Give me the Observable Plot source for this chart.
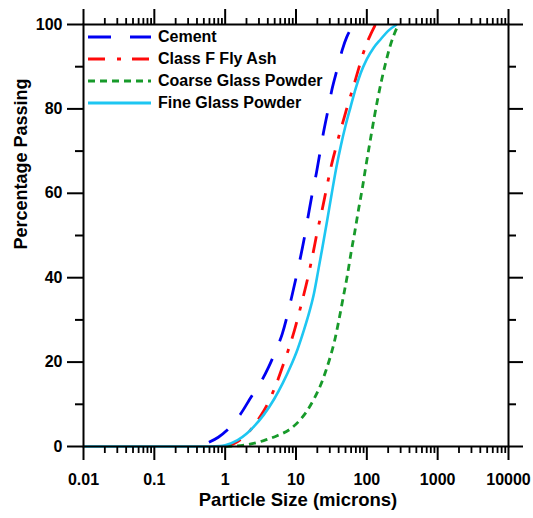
<!DOCTYPE html>
<html>
<head>
<meta charset="utf-8">
<script src="https://cdn.jsdelivr.net/npm/d3@7"></script>
<script src="https://cdn.jsdelivr.net/npm/@observablehq/plot@0.6"></script>
<style>
  body { margin: 0; background: #fff; }
  #wrap { position: relative; width: 533px; height: 518px; }
  #legend { position: absolute; left: 88px; top: 25.5px; font: bold 16px "Liberation Sans", Arial, Helvetica, sans-serif; color: #000; }
  #legend .row { display: flex; align-items: center; height: 22px; white-space: nowrap; }
  #legend svg { display: block; margin-right: 7px; }
</style>
</head>
<body>
<div id="wrap"><div id="legend"></div></div>
<script>
// ---- data ----
const seriesNames = ["Cement", "Class F Fly Ash", "Coarse Glass Powder", "Fine Glass Powder"];
const seriesColors = ["#0000f2", "#ff0a0a", "#179a2a", "#1dc6f2"];
const seriesDashes = ["23,19", "17,12,4,11", "7,5", null];

const cementSize = [0.59, 0.8, 1.07, 1.65, 2.4, 3, 4.1, 5.2, 6.4, 8.9, 10.8, 12.9, 15, 17, 19.5, 22, 24.5, 28.2, 32, 38.3, 45, 52, 60, 66];
const cementPass = [1.0, 2.2, 3.9, 7.7, 12.1, 14.5, 18.8, 22.8, 26.7, 36.2, 42.5, 48.8, 55, 60, 65, 70, 74.5, 79.6, 84.4, 89.5, 94, 97, 99, 100];

const flyAshSize = [1, 1.3, 1.7, 2.2, 2.9, 3.5, 4.3, 5.4, 6.8, 8.2, 9.5, 11.8, 14.7, 17.5, 20, 23, 26.5, 30.5, 35.5, 41, 48, 55, 64, 75, 86, 99, 112, 124, 132];
const flyAshPass = [0, 0.6, 1.8, 3.6, 6.3, 8.4, 11.3, 15.3, 20, 24, 27.5, 33.5, 40, 46, 51, 55.5, 60.5, 65.5, 70, 74, 78, 81.5, 85, 89, 92.4, 95.4, 97.5, 99, 100];

const coarseSize = [1, 2, 3.5, 5.5, 8.4, 11, 14.4, 18, 22.2, 26.5, 30.8, 35, 40.4, 46, 53, 60, 67, 77, 87, 96, 113, 141, 160, 185, 217, 245, 280];
const coarsePass = [0, 0.4, 1.4, 2.6, 4.2, 6, 8.5, 11.3, 14.5, 18, 21.5, 25, 30, 35, 40.5, 46, 50.5, 56.5, 61.5, 66, 73, 82, 86.5, 91, 95.3, 97.8, 100];

const fineSize = [0.01, 0.6, 0.85, 1, 1.5, 2, 2.5, 3.5, 4.9, 6.5, 8.4, 10.5, 12.9, 15.5, 17.9, 20.5, 23.5, 27.5, 32, 37, 43, 50, 59, 70, 82, 100, 125, 157, 200, 265];
const finePass = [0, 0, 0.1, 0.3, 1.5, 3.0, 4.6, 7.5, 11.2, 15.0, 19.0, 23, 27.5, 32, 36.2, 41.5, 47, 53.5, 60, 66, 71.3, 76, 80.5, 85, 88.5, 91.8, 94.5, 96.5, 98.5, 100];

const xMajorTicks = [0.01, 0.1, 1, 10, 100, 1000, 10000];
const xTickLabels = ["0.01", "0.1", "1", "10", "100", "1000", "10000"];
const yMajorTicks = [0, 20, 40, 60, 80, 100];
const yMinorTicks = [10, 30, 50, 70, 90];
const xTitle = "Particle Size (microns)";
const yTitle = "Percentage Passing";

// ---- build tables ----
const sizeArrays = [cementSize, flyAshSize, coarseSize, fineSize];
const passArrays = [cementPass, flyAshPass, coarsePass, finePass];
const tables = sizeArrays.map((s, k) => s.map((v, i) => ({series: seriesNames[k], size: v, pass: passArrays[k][i]})));

const xMinorTicks = [];
for (const d of xMajorTicks.slice(0, -1)) for (let m = 2; m <= 9; m++) xMinorTicks.push(d * m);

const font = '"Liberation Sans", Arial, Helvetica, sans-serif';
const blank = () => "";

const lineMarks = tables.map((t, k) => Plot.line(t, {
  x: "size", y: "pass",
  stroke: seriesColors[k],
  strokeWidth: k === 3 ? 2.6 : 2.8,
  strokeDasharray: seriesDashes[k] || undefined,
  strokeLinecap: "butt",
  curve: "monotone-x"
}));

const chart = Plot.plot({
  width: 533,
  height: 518,
  marginLeft: 83,
  marginRight: 25,
  marginTop: 24,
  marginBottom: 72,
  style: {fontFamily: font, fontSize: "16px", fontWeight: "bold", color: "#000", background: "#fff"},
  x: {type: "log", domain: [0.01, 10000]},
  y: {domain: [0, 100]},
  marks: [
    ...lineMarks,
    Plot.frame({stroke: "#000", strokeWidth: 2}),
    Plot.axisX(xMajorTicks, {anchor: "bottom", tickSize: 14, tickPadding: 13, strokeWidth: 2, label: null,
      tickFormat: d => xTickLabels[xMajorTicks.indexOf(d)], fontSize: 16, fontWeight: "bold"}),
    Plot.axisX(xMinorTicks, {anchor: "bottom", tickSize: 7, strokeWidth: 1.8, label: null, tickFormat: blank}),
    Plot.axisX(xMajorTicks, {anchor: "top", tickSize: 16, strokeWidth: 2, label: null, tickFormat: blank}),
    Plot.axisX(xMinorTicks, {anchor: "top", tickSize: 7, strokeWidth: 1.8, label: null, tickFormat: blank}),
    Plot.axisY(yMajorTicks, {anchor: "left", tickSize: 16, tickPadding: 5, strokeWidth: 2, label: null,
      tickFormat: d => String(d), fontSize: 16, fontWeight: "bold"}),
    Plot.axisY(yMinorTicks, {anchor: "left", tickSize: 8, strokeWidth: 2, label: null, tickFormat: blank}),
    Plot.axisY(yMajorTicks, {anchor: "right", tickSize: 14, strokeWidth: 2, label: null, tickFormat: blank}),
    Plot.axisY(yMinorTicks, {anchor: "right", tickSize: 7, strokeWidth: 2, label: null, tickFormat: blank}),
    Plot.text([xTitle], {frameAnchor: "bottom", dx: 2, dy: 59, fontSize: 18.5, fontWeight: "bold", fill: "#000"}),
    Plot.text([yTitle], {frameAnchor: "left", rotate: -90, dx: -62, dy: 14, fontSize: 18, fontWeight: "bold", fill: "#000"})
  ]
});

const wrap = document.getElementById("wrap");
wrap.insertBefore(chart, wrap.firstChild);

// ---- legend (inside the plot, top-left) ----
const legend = document.getElementById("legend");
seriesNames.forEach((name, k) => {
  const row = document.createElement("div");
  row.className = "row";
  const ns = "http://www.w3.org/2000/svg";
  const sw = document.createElementNS(ns, "svg");
  sw.setAttribute("width", "63");
  sw.setAttribute("height", "6");
  const ln = document.createElementNS(ns, "line");
  ln.setAttribute("x1", "0"); ln.setAttribute("x2", "63");
  ln.setAttribute("y1", "3"); ln.setAttribute("y2", "3");
  ln.setAttribute("stroke", seriesColors[k]);
  ln.setAttribute("stroke-width", "2.8");
  if (seriesDashes[k]) ln.setAttribute("stroke-dasharray", seriesDashes[k]);
  sw.appendChild(ln);
  const label = document.createElement("span");
  label.textContent = name;
  row.appendChild(sw);
  row.appendChild(label);
  legend.appendChild(row);
});
</script>
</body>
</html>
